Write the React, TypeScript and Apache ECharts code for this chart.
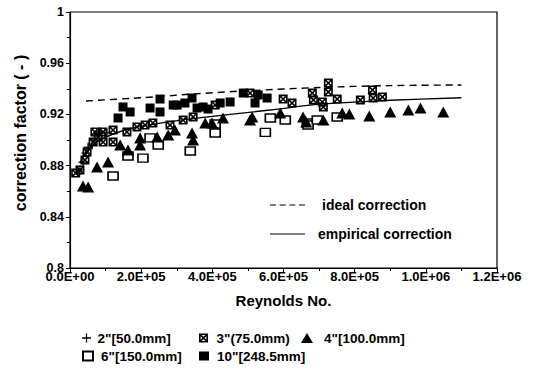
import React, { useEffect, useRef } from "react";
import * as echarts from "echarts";

// ---- data (Reynolds No., correction factor) ----
const xTicks = [0, 200000, 400000, 600000, 800000, 1000000, 1200000];
const yTicks = [0.8, 0.84, 0.88, 0.92, 0.96, 1];

const series2in: [number, number][] = [
  [28000, 0.8766], [36500, 0.8828], [45000, 0.8898], [51000, 0.8945],
  [62000, 0.8961], [70000, 0.9], [84000, 0.9063], [98000, 0.9055],
];
const series3in: [number, number][] = [
  [16000, 0.8742], [28000, 0.8766], [42000, 0.8844], [48000, 0.8906],
  [65000, 0.8984], [70000, 0.9063], [79000, 0.9023], [93000, 0.9063],
  [93000, 0.8984], [121000, 0.9078], [121000, 0.8984], [160000, 0.9063],
  [188000, 0.9102], [211000, 0.9117], [233000, 0.9133], [281000, 0.9117],
  [318000, 0.9156], [346000, 0.918], [408000, 0.9273], [506000, 0.9367],
  [599000, 0.932], [624000, 0.9289], [681000, 0.9367], [684000, 0.9313],
  [709000, 0.9297], [712000, 0.9258], [726000, 0.9445], [726000, 0.9375],
  [751000, 0.932], [816000, 0.9313], [850000, 0.9391], [852000, 0.9328],
  [878000, 0.9336],
];
const series4in: [number, number][] = [
  [36500, 0.8641], [51000, 0.8633], [76000, 0.8789], [107000, 0.8828],
  [141000, 0.8961], [163000, 0.8922], [197000, 0.8961], [197000, 0.9016],
  [245000, 0.9023], [276000, 0.9039], [295000, 0.9078], [343000, 0.9055],
  [346000, 0.9], [380000, 0.9133], [399000, 0.9133], [430000, 0.9172],
  [506000, 0.9156], [512000, 0.918], [591000, 0.9211], [655000, 0.918],
  [664000, 0.9141], [712000, 0.9156], [765000, 0.9211], [785000, 0.9203],
  [841000, 0.9188], [900000, 0.9219], [951000, 0.9234], [985000, 0.925],
  [1049000, 0.9219],
];
const series6in: [number, number][] = [
  [121000, 0.8719], [163000, 0.8875], [205000, 0.8859], [225000, 0.9016],
  [248000, 0.8961], [338000, 0.8914], [408000, 0.9055], [408000, 0.9125],
  [549000, 0.906], [563000, 0.9172], [605000, 0.9156], [667000, 0.9133],
  [669000, 0.9117], [695000, 0.9156], [751000, 0.918],
];
const series10in: [number, number][] = [
  [135000, 0.9172], [149000, 0.9258], [169000, 0.9219], [225000, 0.925],
  [253000, 0.932], [253000, 0.9219], [290000, 0.9273], [301000, 0.9273],
  [323000, 0.9289], [343000, 0.9328], [357000, 0.925], [374000, 0.9258],
  [388000, 0.9242], [422000, 0.9289], [450000, 0.9297], [487000, 0.9367],
  [529000, 0.9352], [520000, 0.9289], [554000, 0.9328],
];
const idealCurve: [number, number][] = [
  [45000, 0.9305], [200000, 0.933], [350000, 0.936], [500000, 0.9385],
  [700000, 0.941], [900000, 0.9425], [1100000, 0.943],
];
const empiricalCurve: [number, number][] = [
  [28000, 0.882], [50000, 0.892], [84000, 0.9], [169000, 0.909],
  [250000, 0.913], [338000, 0.9165], [563000, 0.9234], [703000, 0.928],
  [900000, 0.931], [1100000, 0.933],
];

const names = {
  s2: '2"[50.0mm]',
  s3: '3"(75.0mm)',
  s4: '4"[100.0mm]',
  s6: '6"[150.0mm]',
  s10: '10"[248.5mm]',
  ideal: "ideal correction",
  emp: "empirical correction",
};

const FONT = "'Liberation Sans', Arial, sans-serif";

const plusPath = "path://M4.3 0H5.7V4.3H10V5.7H5.7V10H4.3V5.7H0V4.3H4.3Z";
const xBoxPath =
  "path://M0 0H10V10H0Z M1.8 1.8V8.2H8.2V1.8Z M1.8 1.8H3L8.2 7V8.2H7L1.8 3Z M8.2 1.8V3L3 8.2H1.8V7L7 1.8Z";
const dashIcon = "path://M0 0H6V1H0Z M9.6 0H15.6V1H9.6Z M19.2 0H25.2V1H19.2Z M28.8 0H34.8V1H28.8Z";
const solidIcon = "path://M0 0H35V1H0Z";

function fmtX(v: number): string {
  if (v === 0) return "0.0E+00";
  const e = Math.floor(Math.log10(v) + 1e-9);
  const m = (v / Math.pow(10, e)).toFixed(1);
  return `${m}E+${String(e).padStart(2, "0")}`;
}
function fmtY(v: number): string {
  if (Math.abs(v - 1) < 1e-9) return "1";
  if (Math.abs(v - 0.8) < 1e-9) return "0.8";
  return v.toFixed(2);
}

function legendAt(name: string, left: number, top: number, padLeft: number, opts: any = {}) {
  return {
    data: [opts.icon ? { name, icon: opts.icon } : name],
    left,
    top,
    orient: "horizontal",
    selectedMode: false,
    itemWidth: opts.itemWidth ?? 10,
    itemHeight: opts.itemHeight ?? 9,
    padding: 0,
    itemStyle: { opacity: 1 },
    textStyle: {
      fontFamily: FONT,
      fontSize: opts.fontSize ?? 13.5,
      fontWeight: "bold",
      color: "#000",
      padding: [0, 0, 0, padLeft],
    },
  };
}

export default function App() {
  const ref = useRef<HTMLDivElement>(null);
  useEffect(() => {
    if (!ref.current) return;
    const chart = echarts.init(ref.current, undefined, { renderer: "svg" });
    const black = "#000";
    const option: any = {
      animation: false,
      backgroundColor: "#fff",
      grid: {
        left: 70,
        top: 12,
        right: 38,
        bottom: 104,
        show: true,
        borderColor: black,
        borderWidth: 1.2,
        backgroundColor: "transparent",
      },
      xAxis: {
        type: "value",
        min: xTicks[0],
        max: xTicks[xTicks.length - 1],
        interval: xTicks[1] - xTicks[0],
        name: "Reynolds No.",
        nameLocation: "middle",
        nameGap: 25,
        nameTextStyle: { fontFamily: FONT, fontSize: 15, fontWeight: "bold", color: black },
        axisLine: { lineStyle: { color: black, width: 1.2 } },
        axisTick: { length: 4, lineStyle: { color: black } },
        minorTick: { show: true, splitNumber: 2, length: 3, lineStyle: { color: black } },
        splitLine: { show: false },
        axisLabel: {
          formatter: fmtX,
          margin: 2,
          fontFamily: FONT,
          fontSize: 13,
          fontWeight: "bold",
          color: black,
        },
      },
      yAxis: {
        type: "value",
        min: yTicks[0],
        max: yTicks[yTicks.length - 1],
        interval: 0.04,
        name: "correction factor ( - )",
        nameLocation: "middle",
        nameGap: 42,
        nameRotate: 90,
        nameTextStyle: { fontFamily: FONT, fontSize: 16, fontWeight: "bold", color: black, padding: [0, 0, 0, 14] },
        axisLine: { show: true, lineStyle: { color: black, width: 1.2 } },
        axisTick: { show: true, length: 4, lineStyle: { color: black } },
        minorTick: { show: true, splitNumber: 2, length: 3, lineStyle: { color: black } },
        splitLine: { show: false },
        axisLabel: {
          formatter: fmtY,
          margin: 6,
          fontFamily: FONT,
          fontSize: 12.5,
          fontWeight: "bold",
          color: black,
        },
      },
      legend: [
        legendAt(names.ideal, 270, 198, 12, { itemWidth: 35, itemHeight: 1.5, fontSize: 14, icon: dashIcon }),
        legendAt(names.emp, 270, 227, 8, { itemWidth: 35, itemHeight: 1.5, fontSize: 14, icon: solidIcon }),
        legendAt(names.s2, 82, 331, 1),
        legendAt(names.s3, 199, 331, 3),
        legendAt(names.s4, 301, 331, 6, { itemWidth: 12, itemHeight: 10 }),
        legendAt(names.s6, 82, 349, 3),
        legendAt(names.s10, 199, 349, 3),
      ],
      series: [
        {
          name: names.ideal,
          type: "line",
          data: idealCurve,
          symbol: "none",
          smooth: 0.3,
          lineStyle: { color: black, width: 1.4, type: [7, 5] },
          itemStyle: { color: black },
          emphasis: { disabled: true },
          silent: true,
          z: 1,
        },
        {
          name: names.emp,
          type: "line",
          data: empiricalCurve,
          symbol: "none",
          smooth: 0.3,
          lineStyle: { color: black, width: 1.4 },
          itemStyle: { color: black },
          emphasis: { disabled: true },
          silent: true,
          z: 1,
        },
        {
          name: names.s6,
          type: "scatter",
          data: series6in,
          symbol: "rect",
          symbolSize: [10, 8],
          itemStyle: { color: "#fff", borderColor: black, borderWidth: 1.5, opacity: 1 },
          emphasis: { disabled: true },
          silent: true,
        },
        {
          name: names.s4,
          type: "scatter",
          data: series4in,
          symbol: "triangle",
          symbolSize: [12, 11],
          itemStyle: { color: black, opacity: 1 },
          emphasis: { disabled: true },
          silent: true,
        },
        {
          name: names.s10,
          type: "scatter",
          data: series10in,
          symbol: "rect",
          symbolSize: 9,
          itemStyle: { color: black, opacity: 1 },
          emphasis: { disabled: true },
          silent: true,
        },
        {
          name: names.s3,
          type: "scatter",
          data: series3in,
          symbol: xBoxPath,
          symbolSize: 9,
          itemStyle: { color: black, opacity: 1 },
          emphasis: { disabled: true },
          silent: true,
        },
        {
          name: names.s2,
          type: "scatter",
          data: series2in,
          symbol: plusPath,
          symbolSize: 9,
          itemStyle: { color: black, opacity: 1 },
          emphasis: { disabled: true },
          silent: true,
        },
      ],
    };
    chart.setOption(option);
    return () => chart.dispose();
  }, []);
  return (
    <div
      ref={ref}
      style={{ position: "fixed", left: 0, top: 0, width: 535, height: 372, background: "#fff" }}
    />
  );
}
